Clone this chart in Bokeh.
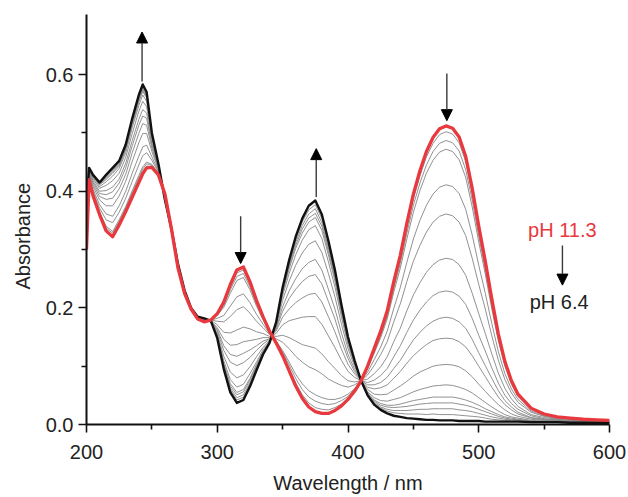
from bokeh.plotting import figure
from bokeh.models import FixedTicker, NumeralTickFormatter, Arrow, NormalHead, Label, Title
from bokeh.embed import file_html
from bokeh.resources import INLINE

# wavelength grid (nm)
wavelength = [200, 202, 205, 210, 215, 220, 225, 230, 235, 240,
              243, 246, 250, 255, 260, 265, 270, 275, 280, 285,
              290, 295, 300, 305, 310, 315, 320, 325, 330, 335,
              340, 345, 350, 355, 360, 365, 370, 375, 380, 385,
              390, 395, 400, 405, 410, 415, 420, 425, 430, 435,
              440, 445, 450, 455, 460, 465, 470, 475, 480, 485,
              490, 495, 500, 505, 510, 515, 520, 525, 530, 540,
              550, 560, 570, 580, 590, 600]

# absorbance in milli-absorbance units (mAU)
ph_6_4 = [380, 440, 428, 415, 428, 440, 452, 480, 525, 565,
          583, 570, 500, 447, 385, 335, 275, 230, 200, 185,
          182, 178, 148, 95, 55, 37, 42, 65, 93, 120,
          140, 175, 235, 282, 322, 353, 375, 384, 360, 315,
          265, 205, 150, 110, 75, 50, 34, 25, 19, 15,
          13, 11, 10, 9, 8, 8, 7, 7, 7, 6,
          6, 6, 6, 5, 5, 5, 5, 5, 5, 4,
          4, 4, 3, 3, 3, 3]

ph_11_3 = [300, 420, 392, 360, 332, 322, 342, 365, 390, 415,
           430, 440, 441, 428, 395, 335, 268, 225, 198, 181,
           176, 179, 190, 210, 240, 265, 270, 245, 213, 185,
           160, 140, 118, 92, 66, 45, 30, 22, 19, 19,
           24, 32, 43, 57, 75, 100, 130, 160, 195, 245,
           290, 345, 395, 435, 468, 492, 507, 512, 508, 493,
           460, 405, 340, 280, 215, 155, 108, 75, 52, 28,
           18, 13, 11, 9, 8, 7]

# intermediate spectra (mAU), ordered from near pH 6.4 to near pH 11.3
inter_01 = [378, 440, 427, 414, 426, 438, 450, 478, 522, 562,
            580, 567, 499, 447, 385, 335, 275, 230, 200, 185,
            182, 178, 149, 97, 59, 42, 47, 69, 95, 121,
            140, 174, 233, 278, 317, 347, 368, 377, 353, 309,
            260, 202, 148, 109, 75, 51, 36, 28, 23, 20,
            19, 18, 18, 18, 17, 18, 17, 17, 17, 16,
            15, 14, 13, 11, 9, 8, 7, 6, 6, 4,
            4, 4, 3, 3, 3, 3]
inter_02 = [377, 439, 427, 413, 424, 435, 448, 475, 520, 559,
            577, 565, 498, 446, 385, 335, 275, 230, 200, 185,
            182, 178, 150, 100, 62, 46, 51, 72, 98, 123,
            141, 174, 230, 274, 312, 341, 361, 370, 346, 303,
            255, 198, 146, 108, 75, 52, 38, 30, 26, 24,
            24, 24, 25, 26, 26, 27, 27, 27, 27, 25,
            24, 22, 19, 16, 13, 11, 9, 8, 7, 5,
            5, 4, 3, 3, 3, 3]
inter_03 = [375, 439, 426, 412, 422, 433, 445, 473, 517, 556,
            574, 562, 496, 446, 386, 335, 275, 230, 200, 185,
            182, 178, 151, 102, 66, 51, 56, 76, 100, 124,
            141, 173, 228, 271, 307, 335, 354, 362, 340, 297,
            251, 195, 144, 107, 75, 53, 40, 33, 30, 29,
            30, 31, 33, 35, 36, 37, 37, 37, 37, 35,
            33, 30, 26, 22, 18, 14, 11, 9, 8, 5,
            5, 5, 3, 3, 3, 3]
inter_04 = [374, 438, 425, 411, 420, 431, 443, 471, 514, 553,
            571, 560, 495, 445, 386, 335, 274, 230, 200, 185,
            182, 178, 151, 104, 70, 55, 60, 79, 103, 125,
            142, 172, 226, 267, 302, 328, 347, 355, 333, 291,
            246, 191, 141, 106, 75, 54, 42, 36, 33, 33,
            35, 38, 41, 43, 45, 47, 47, 47, 47, 45,
            42, 38, 33, 27, 22, 17, 13, 11, 9, 6,
            5, 5, 4, 3, 3, 3]
inter_05 = [370, 438, 424, 408, 416, 426, 439, 466, 509, 547,
            565, 554, 493, 445, 386, 335, 274, 229, 200, 185,
            181, 178, 153, 109, 77, 64, 69, 87, 107, 128,
            142, 171, 221, 259, 291, 316, 334, 341, 319, 279,
            236, 184, 137, 104, 75, 56, 46, 41, 40, 43,
            46, 51, 56, 60, 63, 66, 67, 68, 67, 64,
            60, 54, 46, 38, 30, 23, 17, 13, 11, 7,
            6, 5, 4, 4, 4, 3]
inter_06 = [365, 436, 421, 405, 410, 418, 431, 458, 499, 537,
            554, 545, 489, 443, 387, 335, 274, 229, 200, 184,
            181, 178, 156, 117, 90, 80, 85, 99, 116, 132,
            144, 168, 213, 246, 273, 294, 309, 315, 295, 259,
            219, 172, 130, 100, 75, 60, 52, 51, 52, 59,
            66, 74, 83, 90, 95, 100, 102, 103, 102, 99,
            92, 82, 69, 57, 45, 34, 25, 18, 14, 9,
            7, 6, 5, 4, 4, 4]
inter_07 = [358, 434, 418, 400, 401, 407, 421, 448, 487, 523,
            540, 534, 483, 442, 388, 335, 273, 229, 199, 184,
            180, 178, 160, 127, 107, 101, 106, 115, 127, 138,
            146, 165, 202, 229, 250, 267, 278, 283, 265, 232,
            198, 157, 120, 95, 75, 64, 61, 63, 68, 79,
            91, 105, 118, 128, 137, 144, 147, 148, 147, 142,
            133, 118, 100, 82, 64, 47, 34, 25, 18, 11,
            8, 7, 5, 5, 4, 4]
inter_08 = [352, 433, 415, 396, 394, 399, 414, 440, 478, 513,
            529, 525, 479, 440, 389, 335, 273, 228, 199, 184,
            180, 178, 163, 135, 120, 117, 122, 128, 135, 143,
            147, 163, 194, 216, 232, 245, 254, 257, 241, 211,
            181, 144, 113, 91, 75, 68, 68, 72, 81, 96,
            110, 128, 145, 158, 169, 177, 182, 184, 182, 176,
            165, 146, 123, 101, 79, 58, 41, 30, 21, 12,
            9, 7, 6, 5, 5, 4]
inter_09 = [345, 431, 412, 391, 386, 388, 404, 429, 466, 499,
            516, 513, 474, 439, 389, 335, 272, 228, 199, 183,
            179, 178, 166, 146, 136, 137, 142, 144, 146, 149,
            149, 160, 184, 198, 209, 217, 223, 225, 210, 185,
            159, 129, 103, 87, 75, 72, 76, 84, 96, 116,
            135, 158, 179, 196, 210, 221, 227, 229, 227, 220,
            206, 182, 153, 126, 97, 71, 50, 36, 26, 15,
            10, 8, 7, 6, 5, 5]
inter_10 = [336, 429, 408, 385, 375, 375, 392, 417, 451, 483,
            499, 499, 468, 437, 391, 335, 271, 227, 199, 183,
            179, 179, 171, 158, 157, 162, 167, 164, 159, 156,
            151, 156, 171, 178, 181, 184, 185, 185, 172, 152,
            132, 110, 91, 81, 75, 78, 87, 99, 116, 142,
            165, 195, 222, 243, 261, 274, 282, 285, 283, 274,
            256, 225, 190, 156, 121, 88, 62, 44, 31, 17,
            12, 9, 7, 6, 6, 5]
inter_11 = [324, 426, 403, 377, 361, 357, 375, 400, 431, 460,
            476, 479, 459, 434, 392, 335, 270, 227, 199, 182,
            178, 179, 177, 176, 185, 197, 202, 191, 177, 166,
            154, 151, 153, 149, 143, 137, 134, 131, 121, 108,
            96, 84, 75, 73, 75, 85, 101, 120, 142, 176,
            207, 245, 280, 307, 330, 347, 357, 361, 358, 347,
            324, 285, 240, 198, 152, 110, 77, 54, 38, 21,
            14, 10, 9, 7, 7, 6]
inter_12 = [316, 424, 399, 371, 351, 346, 364, 388, 417, 445,
            461, 466, 453, 432, 393, 335, 269, 226, 198, 182,
            177, 179, 182, 187, 203, 219, 224, 209, 189, 172,
            156, 147, 141, 130, 117, 107, 99, 94, 87, 78,
            72, 67, 64, 68, 75, 90, 111, 133, 160, 199,
            235, 278, 318, 350, 376, 395, 407, 411, 408, 396,
            369, 325, 273, 225, 173, 125, 87, 61, 43, 23,
            15, 11, 9, 8, 7, 6]
inter_13 = [306, 422, 395, 364, 340, 331, 351, 374, 401, 427,
            442, 450, 446, 430, 394, 335, 269, 225, 198, 181,
            176, 179, 187, 201, 225, 247, 252, 231, 203, 180,
            158, 143, 127, 107, 86, 70, 58, 51, 46, 43,
            43, 46, 52, 61, 75, 96, 122, 149, 181, 227,
            268, 318, 364, 401, 431, 453, 467, 472, 468, 454,
            424, 373, 313, 258, 198, 143, 100, 69, 48, 26,
            17, 12, 10, 9, 8, 7]
inter_14 = [304, 421, 394, 363, 337, 328, 348, 371, 397, 423,
            438, 447, 444, 429, 395, 335, 268, 225, 198, 181,
            176, 179, 188, 204, 231, 254, 259, 236, 207, 182,
            159, 142, 124, 102, 79, 60, 47, 40, 36, 34,
            36, 41, 48, 60, 75, 98, 125, 153, 186, 234,
            276, 328, 376, 414, 445, 468, 482, 487, 483, 469,
            437, 385, 323, 266, 205, 148, 103, 72, 50, 27,
            17, 13, 11, 9, 8, 7]
inter_15 = [302, 420, 393, 361, 334, 324, 344, 367, 393, 418,
            433, 443, 442, 428, 395, 335, 268, 225, 198, 181,
            176, 179, 189, 208, 236, 260, 265, 241, 211, 184,
            160, 141, 120, 96, 71, 51, 37, 29, 26, 25,
            29, 35, 45, 58, 75, 99, 128, 157, 191, 240,
            284, 338, 387, 426, 459, 482, 497, 502, 498, 483,
            451, 397, 333, 275, 211, 152, 106, 74, 51, 28,
            18, 13, 11, 9, 8, 7]

intermediate_spectra = [inter_01, inter_02, inter_03, inter_04, inter_05,
                        inter_06, inter_07, inter_08, inter_09, inter_10,
                        inter_11, inter_12, inter_13, inter_14, inter_15]

x_ticks = [200, 300, 400, 500, 600]
x_minor_ticks = [250, 350, 450, 550]
y_ticks = [0.0, 0.2, 0.4, 0.6]
y_minor_ticks = [0.1, 0.3, 0.5]

RED = "#e8393e"
FONT = "Liberation Sans"
TXT = "#222222"


def to_au(mau):
    return [v / 1000.0 for v in mau]


p = figure(width=628, height=497, x_range=(200, 600), y_range=(0, 0.703),
           output_backend="svg", toolbar_location=None,
           min_border_left=85, min_border_right=19,
           min_border_top=14, min_border_bottom=73)
p.outline_line_color = None
p.grid.visible = False
p.background_fill_color = "white"
p.border_fill_color = "white"

for spec in intermediate_spectra:
    p.line(wavelength, to_au(spec), line_color="#858585", line_width=0.9,
           line_join="round")
p.line(wavelength, to_au(ph_6_4), line_color="#111111", line_width=2.4,
       line_join="round")
p.line(wavelength, to_au(ph_11_3), line_color=RED, line_width=3.3,
       line_join="round")

for ax in (p.xaxis[0], p.yaxis[0]):
    ax.axis_line_width = 2
    ax.axis_line_color = "#111111"
    ax.major_tick_line_width = 1.6
    ax.minor_tick_line_width = 1.6
    ax.major_tick_line_color = "#111111"
    ax.minor_tick_line_color = "#111111"
    ax.major_tick_in = 0
    ax.major_tick_out = 8
    ax.minor_tick_in = 0
    ax.minor_tick_out = 5
    ax.major_label_text_font = FONT
    ax.major_label_text_font_size = "20px"
    ax.major_label_text_color = TXT

p.xaxis.ticker = FixedTicker(ticks=x_ticks, minor_ticks=x_minor_ticks)
p.yaxis.ticker = FixedTicker(ticks=y_ticks, minor_ticks=y_minor_ticks)
p.xaxis.formatter = NumeralTickFormatter(format="0")
p.yaxis.formatter = NumeralTickFormatter(format="0.0")
p.xaxis.major_label_standoff = 12
p.yaxis.major_label_standoff = 5

p.xaxis.axis_label = "Wavelength / nm"
p.xaxis.axis_label_text_font = FONT
p.xaxis.axis_label_text_font_size = "20px"
p.xaxis.axis_label_text_font_style = "normal"
p.xaxis.axis_label_text_color = TXT
p.xaxis.axis_label_standoff = 10

p.add_layout(Title(text="Absorbance", align="left", offset=135, standoff=18,
                   text_font=FONT, text_font_size="20px",
                   text_font_style="normal", text_color=TXT), "left")

p.add_layout(Label(x=537.7, y=0.334, text="pH 11.3", text_align="left",
                   text_baseline="alphabetic", text_font=FONT,
                   text_font_size="20px", text_color=RED))
p.add_layout(Label(x=539.0, y=0.210, text="pH 6.4", text_align="left",
                   text_baseline="alphabetic", text_font=FONT,
                   text_font_size="20px", text_color=TXT))


def add_arrow(x0, y0, x1, y1):
    p.add_layout(Arrow(end=NormalHead(size=11, fill_color="black",
                                      line_color="black", line_width=1),
                       x_start=x0, y_start=y0, x_end=x1, y_end=y1,
                       line_color="#3a3a3a", line_width=1.4))


add_arrow(242.5, 0.588, 242.5, 0.673)
add_arrow(375.7, 0.390, 375.7, 0.473)
add_arrow(317.9, 0.357, 317.9, 0.276)
add_arrow(475.6, 0.602, 475.6, 0.521)
add_arrow(564.0, 0.307, 564.0, 0.239)

open("out.html", "w").write(file_html(p, INLINE))
